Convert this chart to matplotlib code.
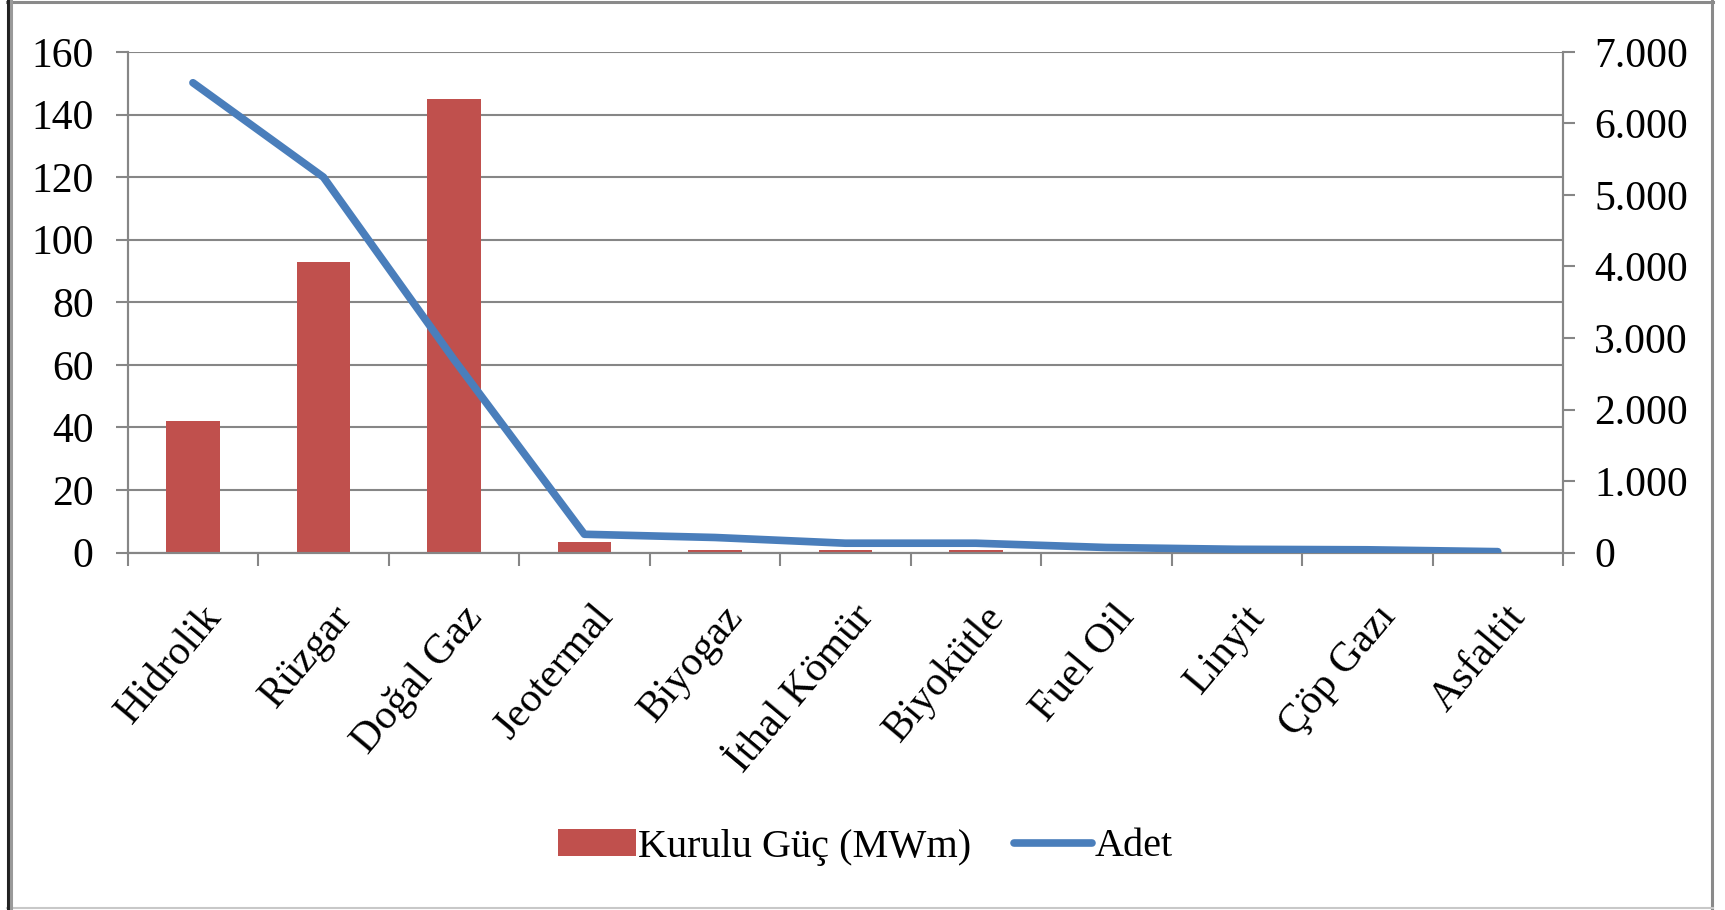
import numpy as np
import matplotlib
matplotlib.use('Agg')
import matplotlib.pyplot as plt
import matplotlib.transforms as mtransforms
from matplotlib.lines import Line2D
from matplotlib.patches import Patch
from matplotlib.ticker import FuncFormatter

plt.rcParams['font.family'] = ['Liberation Serif', 'DejaVu Serif']

categories = ['Hidrolik', 'Rüzgar', 'Doğal Gaz', 'Jeotermal', 'Biyogaz', 'İthal Kömür',
              'Biyokütle', 'Fuel Oil', 'Linyit', 'Çöp Gazı', 'Asfaltit']
kurulu_guc = [42, 93, 145, 3.2, 0.9, 0.9, 0.9, 0.3, 0.1, 0, 0]   # MWm
adet = [6570, 5250, 2700, 255, 210, 130, 130, 70, 45, 38, 12]

red = '#C0504D'
blue = '#4A7EBB'
grey = '#868686'
fs = 30

W, H = 1725, 910
fig = plt.figure(figsize=(W / 100, H / 100), dpi=100)
ax = fig.add_axes([127.7 / W, 1 - 552.5 / H, (1563 - 127.7) / W, (552.5 - 52) / H])

x = np.arange(len(categories))
ax.bar(x, kurulu_guc, width=0.41, color=red, zorder=2)
ax.set_xlim(-0.5, len(categories) - 0.5)
ax.set_ylim(0, 160)
ax.set_yticks(np.arange(0, 161, 20))
ax.yaxis.grid(True, color=grey, lw=1.5, zorder=0)
ax.set_axisbelow(True)

ax.set_xticks(x)
ax.set_xticklabels(categories, rotation=50, ha='right', va='top', rotation_mode='anchor')
ax.set_xticks(np.arange(-0.5, len(categories)), minor=True)
ax.tick_params(axis='x', which='major', length=0, pad=33, labelsize=fs)
ax.tick_params(axis='x', which='minor', length=9.5, width=1.5, color=grey)
ax.tick_params(axis='y', length=8.5, width=1.5, color=grey, pad=16, labelsize=fs)
offset = mtransforms.ScaledTranslation(7 / 100, 0, fig.dpi_scale_trans)
for lbl in ax.get_xticklabels():
    lbl.set_transform(lbl.get_transform() + offset)

ax.spines['top'].set_visible(False)
for s in ['left', 'bottom', 'right']:
    ax.spines[s].set_color(grey)
    ax.spines[s].set_linewidth(1.5)

ax2 = ax.twinx()
ax2.plot(x, adet, color=blue, lw=5.5, solid_capstyle='round', solid_joinstyle='round', zorder=3)
ax2.set_ylim(0, 7000)
ax2.set_yticks(np.arange(0, 7001, 1000))
ax2.yaxis.set_major_formatter(FuncFormatter(lambda v, p: f'{int(v):,d}'.replace(',', '.')))
ax2.tick_params(axis='y', length=8.5, width=1.5, color=grey, pad=14, labelsize=fs)
ax2.spines['top'].set_visible(False)
for s in ['left', 'bottom', 'right']:
    ax2.spines[s].set_color(grey)
    ax2.spines[s].set_linewidth(1.5)

handles = [Patch(facecolor=red, edgecolor='none'),
           Line2D([], [], color=blue, lw=5.5, solid_capstyle='round')]
fig.legend(handles, ['Kurulu Güç (MWm)', 'Adet'], loc='center',
           bbox_to_anchor=(0.5015, 1 - 847 / H), ncol=2, frameon=False, fontsize=29,
           handlelength=1.95, handleheight=0.65, handletextpad=0.05, columnspacing=1.05)

# outer frame
def fline(x0, y0, x1, y1, c, lw):
    fig.add_artist(Line2D([x0 / W, x1 / W], [1 - y0 / H, 1 - y1 / H], color=c, lw=lw,
                          transform=fig.transFigure))

fline(7, 1.5, 1713, 1.5, '#8a8a8a', 2.2)
fline(1711.5, 0, 1711.5, 909, '#8a8a8a', 2.2)
fline(7, 908, 1713, 908, '#c8c8c8', 1.5)
fline(7.5, 0, 7.5, 910, '#222222', 2.2)
fline(10.5, 0, 10.5, 910, '#9a9a9a', 2.2)

fig.savefig('out.png', dpi=100)
